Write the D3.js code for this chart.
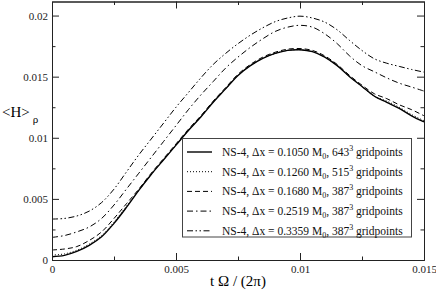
<!DOCTYPE html>
<html>
<head>
<meta charset="utf-8">
<script src="https://cdn.jsdelivr.net/npm/d3@7"></script>
<style>
body{margin:0;background:#fff}
svg{display:block;font-family:"Liberation Serif","DejaVu Serif",serif}
</style>
</head>
<body>
<svg id="chart" width="436" height="290"></svg>
<script>
// time axis, t Omega / (2 pi)
var tval = [0,0.0005,0.001,0.0015,0.002,0.0025,0.003,0.0035,0.004,0.0045,0.005,
  0.0055,0.006,0.0065,0.007,0.0075,0.008,0.0085,0.009,0.0095,0.01,
  0.0105,0.011,0.0115,0.012,0.0125,0.013,0.0135,0.014,0.0145,0.015];

var h1050 = [0.00027,0.00038,0.0007,0.0012,0.0019,0.0030,0.0043,0.0057,0.0070,0.0082,0.0094,
  0.0106,0.0117,0.0129,0.0140,0.0151,0.0159,0.0165,0.0169,0.01715,0.0172,
  0.01705,0.0166,0.0159,0.0150,0.0142,0.0134,0.0129,0.0124,0.0118,0.0113];
var h1260 = [0.0004,0.0005,0.0008,0.0013,0.0020,0.0031,0.0044,0.0057,0.0070,0.0082,0.0094,
  0.0106,0.0117,0.0129,0.0140,0.0151,0.0159,0.0165,0.0169,0.01715,0.0172,
  0.01705,0.0166,0.0159,0.0150,0.0142,0.0134,0.0130,0.0125,0.0119,0.0114];
var h1680 = [0.00082,0.0009,0.0011,0.0016,0.0023,0.0034,0.0046,0.0058,0.0071,0.0083,0.0095,
  0.0107,0.0118,0.0130,0.0141,0.0152,0.0160,0.0166,0.0170,0.01725,0.0173,
  0.01715,0.0167,0.0160,0.0151,0.0143,0.0136,0.0132,0.0127,0.0123,0.0118];
var h2519 = [0.00185,0.0020,0.0023,0.0027,0.0034,0.0045,0.0058,0.0071,0.0084,0.0097,0.0110,
  0.0123,0.0135,0.0146,0.0157,0.0166,0.0174,0.0181,0.0187,0.01905,0.0192,
  0.01905,0.0185,0.0177,0.0167,0.0159,0.0154,0.0149,0.01447,0.01415,0.01382];
var h3359 = [0.00335,0.0034,0.0036,0.0040,0.0047,0.0058,0.0072,0.0086,0.0099,0.0112,0.0125,
  0.0137,0.0149,0.0160,0.0169,0.0177,0.0184,0.0190,0.0195,0.0198,0.01995,
  0.0198,0.01946,0.01883,0.01796,0.01714,0.01646,0.0161,0.01584,0.01559,0.01537];

var dxLabels = ["0.1050","0.1260","0.1680","0.2519","0.3359"];
var gridLabels = ["643","515","387","387","387"];

var xMajor = [0,0.005,0.01,0.015];
var xMinor = [0.0025,0.0075,0.0125];
var yMajor = [0,0.005,0.01,0.015,0.02];
var yMinor = [0.0025,0.0075,0.0125,0.0175];

var series = [h1050,h1260,h1680,h2519,h3359];
var dashes = ["none","1,2","5,3","6,3,1.5,3","6,2.5,1.5,2.5,1.5,2.5"];
var widths = [1.4,1,1,1,1];

var svg = d3.select("#chart");
var mLeft = 52, mRight = 424, mTop = 1.5, mBottom = 260;

var x = d3.scaleLinear().domain([0,0.015]).range([mLeft,mRight]);
var y = d3.scaleLinear().domain([0,0.02115]).range([mBottom,mTop]);

// curves
var line = d3.line()
  .x(function(d,i){return x(tval[i]);})
  .y(function(d){return y(d);})
  .curve(d3.curveCatmullRom.alpha(0.5));

svg.append("g").selectAll("path")
  .data(series)
  .enter().append("path")
  .attr("d",line)
  .attr("fill","none")
  .attr("stroke","#000")
  .attr("stroke-width",function(d,i){return widths[i];})
  .attr("stroke-dasharray",function(d,i){return dashes[i];});

// axes with inward ticks
function addAxis(axis, tr, vals, size, labels){
  var g = svg.append("g").attr("transform",tr)
    .call(axis.tickValues(vals).tickSize(size).tickSizeOuter(0)
      .tickFormat(labels ? function(d){return d===0?"0":d3.format("")(+d.toPrecision(3));} : ""));
  g.select(".domain").attr("stroke","#222");
  g.selectAll(".tick line").attr("stroke","#222");
  g.selectAll("text").attr("fill","#222").style("font-size","11px")
    .style("font-family","'Liberation Serif',serif");
  return g;
}
var gx = addAxis(d3.axisBottom(x), "translate(0,"+mBottom+")", xMajor, -7, true);
gx.selectAll("text").attr("y",5);
addAxis(d3.axisBottom(x), "translate(0,"+mBottom+")", xMinor, -3.5, false);
addAxis(d3.axisTop(x), "translate(0,"+mTop+")", xMajor, -7, false);
addAxis(d3.axisTop(x), "translate(0,"+mTop+")", xMinor, -3.5, false);
var gy = addAxis(d3.axisLeft(y), "translate("+mLeft+",0)", yMajor, -7, true);
gy.selectAll("text").attr("x",-4);
addAxis(d3.axisLeft(y), "translate("+mLeft+",0)", yMinor, -3.5, false);
addAxis(d3.axisRight(y), "translate("+mRight+",0)", yMajor, -7, false);
addAxis(d3.axisRight(y), "translate("+mRight+",0)", yMinor, -3.5, false);

// axis titles
var xt = svg.append("text").attr("x",(mLeft+mRight)/2).attr("y",286)
  .attr("text-anchor","middle").style("font-size","15px");
xt.text("t \u03A9 / (2\u03C0)");

var yt = svg.append("text").attr("x",2).attr("y",117).style("font-size","15px");
yt.append("tspan").text("<H>");
yt.append("tspan").attr("dx",3).attr("dy",6).style("font-size","11px").text("\u03C1");

// legend
var lg = svg.append("g");
lg.append("rect").attr("x",182.5).attr("y",138.5).attr("width",229).attr("height",98.5)
  .attr("fill","#fff").attr("stroke","#444").attr("stroke-width",1);

var rows = lg.selectAll("g.row").data(series).enter().append("g")
  .attr("transform",function(d,i){return "translate(0,"+(152+i*19.7)+")";});
rows.append("line").attr("x1",187).attr("x2",212).attr("y1",0).attr("y2",0)
  .attr("stroke","#000")
  .attr("stroke-width",function(d,i){return widths[i];})
  .attr("stroke-dasharray",function(d,i){return dashes[i];});
var lt = rows.append("text").attr("x",222).attr("y",4).style("font-size","11.5px").attr("fill","#111");
lt.append("tspan").text(function(d,i){return "NS-4, \u0394x = "+dxLabels[i]+" M";});
lt.append("tspan").attr("dy",3).style("font-size","8px").text("0");
lt.append("tspan").attr("dy",-3).text(", ");
lt.append("tspan").text(function(d,i){return gridLabels[i];});
lt.append("tspan").attr("dy",-5).style("font-size","8px").text("3");
lt.append("tspan").attr("dy",5).text(" gridpoints");
</script>
</body>
</html>
